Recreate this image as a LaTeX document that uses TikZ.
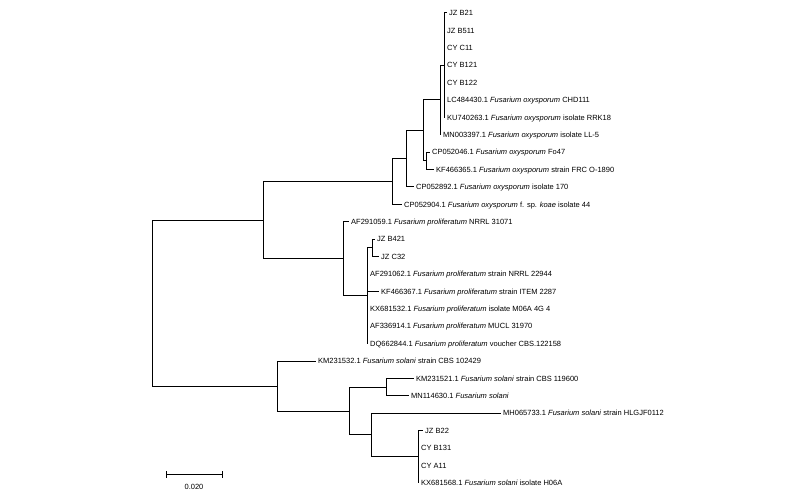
\documentclass[tikz,border=0pt]{standalone}
\usepackage{fontspec}
\setmainfont{Liberation Sans}
\begin{document}
\begin{tikzpicture}[x=1pt,y=-1pt,
  br/.style={line width=1pt, line cap=rect, draw=black},
  lf/.style={anchor=base west, inner sep=0pt, font=\fontsize{7.5}{9}\selectfont, yshift=-2.7pt, xshift=3pt}]
\useasboundingbox (0,0) rectangle (800,497);
% internal nodes
\coordinate (R) at (152,303.1);
\coordinate (U) at (263,220.2);
\coordinate (S) at (277,386);
\coordinate (O) at (392,181.6);
\coordinate (P) at (343,258.8);
\coordinate (O1) at (406,158.7);
\coordinate (O2) at (423,130.45);
\coordinate (O3) at (440,100);
\coordinate (A) at (444,65.2);
\coordinate (CPp) at (426,160.9);
\coordinate (JZc) at (372,247.9);
\coordinate (P2) at (367,295.75);
\coordinate (S1) at (349,411);
\coordinate (Pp) at (386,387.1);
\coordinate (S2) at (371,434.95);
\coordinate (S3) at (418,456.7);
% leaves
\coordinate (l1) at (446,13);
\coordinate (l2) at (444,30.4);
\coordinate (l3) at (444,47.8);
\coordinate (l4) at (444,65.2);
\coordinate (l5) at (444,82.6);
\coordinate (l6) at (444,100);
\coordinate (l7) at (444,117.4);
\coordinate (l8) at (440,134.8);
\coordinate (l9) at (429,152.2);
\coordinate (l10) at (433,169.6);
\coordinate (l11) at (413,187);
\coordinate (l12) at (401,204.4);
\coordinate (l13) at (348,221.8);
\coordinate (l14) at (374,239.2);
\coordinate (l15) at (378,256.6);
\coordinate (l16) at (367,274);
\coordinate (l17) at (378,291.4);
\coordinate (l18) at (367,308.8);
\coordinate (l19) at (367,326.2);
\coordinate (l20) at (367,343.6);
\coordinate (l21) at (315,361);
\coordinate (l22) at (413,378.4);
\coordinate (l23) at (408,395.8);
\coordinate (l24) at (500,413.2);
\coordinate (l25) at (422,430.6);
\coordinate (l26) at (418,448);
\coordinate (l27) at (418,465.4);
\coordinate (l28) at (418,482.8);
% branches
\draw[br] (R) |- (U);
\draw[br] (R) |- (S);
\draw[br] (U) |- (O);
\draw[br] (U) |- (P);
\draw[br] (O) |- (O1);
\draw[br] (O) |- (l12);
\draw[br] (O1) |- (O2);
\draw[br] (O1) |- (l11);
\draw[br] (O2) |- (O3);
\draw[br] (O2) |- (CPp);
\draw[br] (O3) |- (A);
\draw[br] (O3) |- (l8);
\foreach \i in {1,...,7} {\draw[br] (A) |- (l\i);}
\draw[br] (CPp) |- (l9);
\draw[br] (CPp) |- (l10);
\draw[br] (P) |- (l13);
\draw[br] (P) |- (P2);
\draw[br] (P2) |- (JZc);
\foreach \i in {16,...,20} {\draw[br] (P2) |- (l\i);}
\draw[br] (JZc) |- (l14);
\draw[br] (JZc) |- (l15);
\draw[br] (S) |- (l21);
\draw[br] (S) |- (S1);
\draw[br] (S1) |- (Pp);
\draw[br] (S1) |- (S2);
\draw[br] (Pp) |- (l22);
\draw[br] (Pp) |- (l23);
\draw[br] (S2) |- (l24);
\draw[br] (S2) |- (S3);
\foreach \i in {25,...,28} {\draw[br] (S3) |- (l\i);}
% labels
\node[lf] (t1) at (l1) {JZ B21};
\node[lf] (t2) at (l2) {JZ B511};
\node[lf] (t3) at (l3) {CY C11};
\node[lf] (t4) at (l4) {CY B121};
\node[lf] (t5) at (l5) {CY B122};
\node[lf] (t6) at (l6) {LC484430.1 \textit{Fusarium oxysporum} CHD111};
\node[lf] (t7) at (l7) {KU740263.1 \textit{Fusarium oxysporum} isolate RRK18};
\node[lf] (t8) at (l8) {MN003397.1 \textit{Fusarium oxysporum} isolate LL-5};
\node[lf] (t9) at (l9) {CP052046.1 \textit{Fusarium oxysporum} Fo47};
\node[lf] (t10) at (l10) {KF466365.1 \textit{Fusarium oxysporum} strain FRC O-1890};
\node[lf] (t11) at (l11) {CP052892.1 \textit{Fusarium oxysporum} isolate 170};
\node[lf] (t12) at (l12) {CP052904.1 \textit{Fusarium oxysporum} f. sp. \textit{koae} isolate 44};
\node[lf] (t13) at (l13) {AF291059.1 \textit{Fusarium proliferatum} NRRL 31071};
\node[lf] (t14) at (l14) {JZ B421};
\node[lf] (t15) at (l15) {JZ C32};
\node[lf] (t16) at (l16) {AF291062.1 \textit{Fusarium proliferatum} strain NRRL 22944};
\node[lf] (t17) at (l17) {KF466367.1 \textit{Fusarium proliferatum} strain ITEM 2287};
\node[lf] (t18) at (l18) {KX681532.1 \textit{Fusarium proliferatum} isolate M06A 4G 4};
\node[lf] (t19) at (l19) {AF336914.1 \textit{Fusarium proliferatum} MUCL 31970};
\node[lf] (t20) at (l20) {DQ662844.1 \textit{Fusarium proliferatum} voucher CBS.122158};
\node[lf] (t21) at (l21) {KM231532.1 \textit{Fusarium solani} strain CBS 102429};
\node[lf] (t22) at (l22) {KM231521.1 \textit{Fusarium solani} strain CBS 119600};
\node[lf] (t23) at (l23) {MN114630.1 \textit{Fusarium solani}};
\node[lf] (t24) at (l24) {MH065733.1 \textit{Fusarium solani} strain HLGJF0112};
\node[lf] (t25) at (l25) {JZ B22};
\node[lf] (t26) at (l26) {CY B131};
\node[lf] (t27) at (l27) {CY A11};
\node[lf] (t28) at (l28) {KX681568.1 \textit{Fusarium solani} isolate H06A};
% scale bar
\coordinate (sbA) at (166,474);
\coordinate (sbB) at (222,474);
\draw[br] (sbA) -- (sbB);
\draw[br] ([yshift=3pt]sbA) -- ([yshift=-3pt]sbA);
\draw[br] ([yshift=3pt]sbB) -- ([yshift=-3pt]sbB);
\node[anchor=base, inner sep=0pt, font=\fontsize{7.5}{9}\selectfont] (sbl) at (194,489.5) {0.020};
\end{tikzpicture}
\end{document}
